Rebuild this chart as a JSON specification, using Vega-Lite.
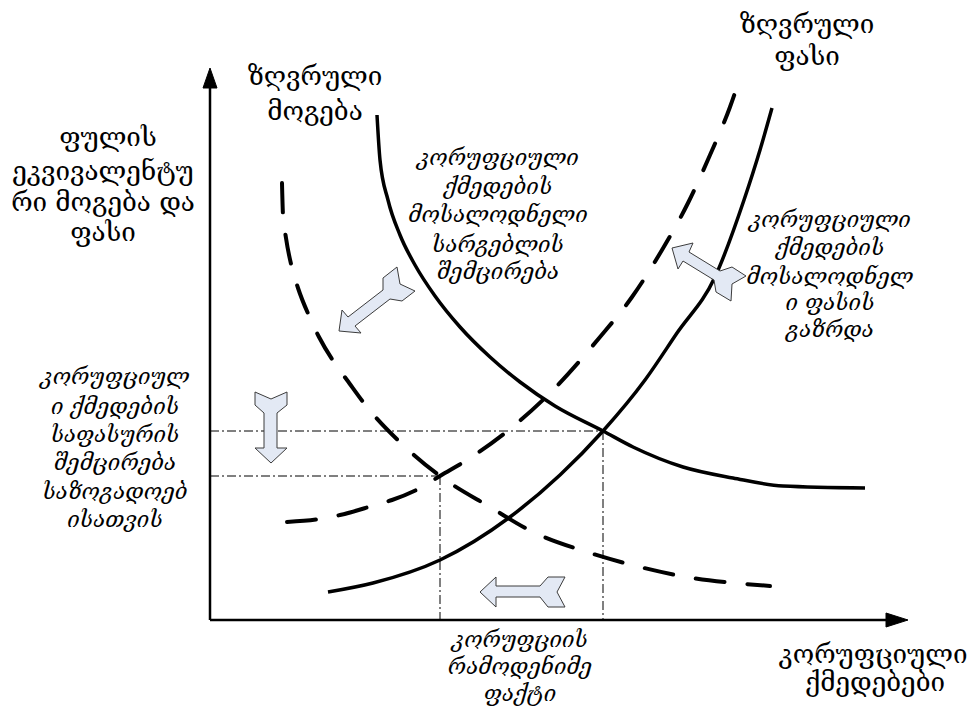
{
  "$schema": "https://vega.github.io/schema/vega-lite/v6.json",
  "autosize": {"type": "fit", "contains": "padding"},
  "width": 979,
  "height": 714,
  "padding": 0,
  "background": "white",
  "config": {"view": {"stroke": null}},
  "datasets": {
    "curves": [
      {"c": "MB", "i": 0, "x": 167, "y": 505}, {"c": "MB", "i": 1, "x": 170, "y": 460}, {"c": "MB", "i": 2, "x": 178, "y": 420}, {"c": "MB", "i": 3, "x": 190, "y": 385}, {"c": "MB", "i": 4, "x": 205, "y": 355}, {"c": "MB", "i": 5, "x": 225, "y": 324}, {"c": "MB", "i": 6, "x": 250, "y": 293}, {"c": "MB", "i": 7, "x": 280, "y": 263}, {"c": "MB", "i": 8, "x": 310, "y": 238}, {"c": "MB", "i": 9, "x": 345, "y": 214}, {"c": "MB", "i": 10, "x": 393, "y": 189}, {"c": "MB", "i": 11, "x": 423, "y": 173}, {"c": "MB", "i": 12, "x": 473, "y": 153}, {"c": "MB", "i": 13, "x": 523, "y": 142}, {"c": "MB", "i": 14, "x": 573, "y": 134}, {"c": "MB", "i": 15, "x": 655, "y": 132},
      {"c": "MC", "i": 0, "x": 118, "y": 28}, {"c": "MC", "i": 1, "x": 163, "y": 37}, {"c": "MC", "i": 2, "x": 230, "y": 60}, {"c": "MC", "i": 3, "x": 300, "y": 103}, {"c": "MC", "i": 4, "x": 350, "y": 145}, {"c": "MC", "i": 5, "x": 393, "y": 189}, {"c": "MC", "i": 6, "x": 435, "y": 240}, {"c": "MC", "i": 7, "x": 467, "y": 287}, {"c": "MC", "i": 8, "x": 505, "y": 343}, {"c": "MC", "i": 9, "x": 534, "y": 420}, {"c": "MC", "i": 10, "x": 550, "y": 470}, {"c": "MC", "i": 11, "x": 562, "y": 512},
      {"c": "MBd", "i": 0, "x": 72, "y": 437}, {"c": "MBd", "i": 1, "x": 73, "y": 405}, {"c": "MBd", "i": 2, "x": 76, "y": 382}, {"c": "MBd", "i": 3, "x": 82, "y": 352}, {"c": "MBd", "i": 4, "x": 88, "y": 332}, {"c": "MBd", "i": 5, "x": 100, "y": 302}, {"c": "MBd", "i": 6, "x": 109, "y": 283}, {"c": "MBd", "i": 7, "x": 126, "y": 255}, {"c": "MBd", "i": 8, "x": 137, "y": 240}, {"c": "MBd", "i": 9, "x": 157, "y": 213}, {"c": "MBd", "i": 10, "x": 193, "y": 175}, {"c": "MBd", "i": 11, "x": 230, "y": 144}, {"c": "MBd", "i": 12, "x": 280, "y": 113}, {"c": "MBd", "i": 13, "x": 323, "y": 88}, {"c": "MBd", "i": 14, "x": 377, "y": 68}, {"c": "MBd", "i": 15, "x": 430, "y": 53}, {"c": "MBd", "i": 16, "x": 482, "y": 42}, {"c": "MBd", "i": 17, "x": 535, "y": 36}, {"c": "MBd", "i": 18, "x": 560, "y": 34},
      {"c": "MCd", "i": 0, "x": 77, "y": 98}, {"c": "MCd", "i": 1, "x": 110, "y": 101}, {"c": "MCd", "i": 2, "x": 130, "y": 105}, {"c": "MCd", "i": 3, "x": 162, "y": 114}, {"c": "MCd", "i": 4, "x": 182, "y": 120}, {"c": "MCd", "i": 5, "x": 212, "y": 133}, {"c": "MCd", "i": 6, "x": 230, "y": 144}, {"c": "MCd", "i": 7, "x": 257, "y": 160}, {"c": "MCd", "i": 8, "x": 300, "y": 191}, {"c": "MCd", "i": 9, "x": 340, "y": 227}, {"c": "MCd", "i": 10, "x": 390, "y": 283}, {"c": "MCd", "i": 11, "x": 422, "y": 323}, {"c": "MCd", "i": 12, "x": 452, "y": 370}, {"c": "MCd", "i": 13, "x": 478, "y": 417}, {"c": "MCd", "i": 14, "x": 500, "y": 465}, {"c": "MCd", "i": 15, "x": 520, "y": 513}, {"c": "MCd", "i": 16, "x": 530, "y": 542}
    ],
    "refs": [
      {"r": "h1", "i": 0, "x": 0, "y": 189}, {"r": "h1", "i": 1, "x": 393, "y": 189},
      {"r": "h2", "i": 0, "x": 0, "y": 144}, {"r": "h2", "i": 1, "x": 230, "y": 144},
      {"r": "v1", "i": 0, "x": 230, "y": 144}, {"r": "v1", "i": 1, "x": 230, "y": 0},
      {"r": "v2", "i": 0, "x": 393, "y": 189}, {"r": "v2", "i": 1, "x": 393, "y": 0}
    ],
    "axes": [
      {"a": "y", "i": 0, "x": 0, "y": 0}, {"a": "y", "i": 1, "x": 0, "y": 534},
      {"a": "x", "i": 0, "x": 0, "y": 0}, {"a": "x", "i": 1, "x": 678, "y": 0}
    ],
    "heads": [
      {"h": "y", "i": 0, "x": -7, "y": 532}, {"h": "y", "i": 1, "x": 0, "y": 552}, {"h": "y", "i": 2, "x": 7, "y": 532}, {"h": "y", "i": 3, "x": -7, "y": 532},
      {"h": "x", "i": 0, "x": 676, "y": 7}, {"h": "x", "i": 1, "x": 698, "y": 0}, {"h": "x", "i": 2, "x": 676, "y": -7}, {"h": "x", "i": 3, "x": 676, "y": 7}
    ],
    "arrows": [
      {"k": "A", "i": 0, "x": 61, "y": 157}, {"k": "A", "i": 1, "x": 45, "y": 172}, {"k": "A", "i": 2, "x": 54, "y": 172}, {"k": "A", "i": 3, "x": 54, "y": 207}, {"k": "A", "i": 4, "x": 45, "y": 215}, {"k": "A", "i": 5, "x": 45, "y": 228}, {"k": "A", "i": 6, "x": 61, "y": 221}, {"k": "A", "i": 7, "x": 77, "y": 228}, {"k": "A", "i": 8, "x": 77, "y": 215}, {"k": "A", "i": 9, "x": 67, "y": 207}, {"k": "A", "i": 10, "x": 67, "y": 172}, {"k": "A", "i": 11, "x": 77, "y": 172}, {"k": "A", "i": 12, "x": 61, "y": 157},
      {"k": "B", "i": 0, "x": 270, "y": 28}, {"k": "B", "i": 1, "x": 286, "y": 43}, {"k": "B", "i": 2, "x": 286, "y": 34}, {"k": "B", "i": 3, "x": 330, "y": 34}, {"k": "B", "i": 4, "x": 338, "y": 43}, {"k": "B", "i": 5, "x": 355, "y": 43}, {"k": "B", "i": 6, "x": 347, "y": 28}, {"k": "B", "i": 7, "x": 355, "y": 13}, {"k": "B", "i": 8, "x": 338, "y": 13}, {"k": "B", "i": 9, "x": 330, "y": 23}, {"k": "B", "i": 10, "x": 286, "y": 23}, {"k": "B", "i": 11, "x": 286, "y": 13}, {"k": "B", "i": 12, "x": 270, "y": 28},
      {"k": "C", "i": 0, "x": 129, "y": 289}, {"k": "C", "i": 1, "x": 151, "y": 287}, {"k": "C", "i": 2, "x": 145, "y": 294}, {"k": "C", "i": 3, "x": 180, "y": 321}, {"k": "C", "i": 4, "x": 192, "y": 319}, {"k": "C", "i": 5, "x": 205, "y": 329}, {"k": "C", "i": 6, "x": 190, "y": 336}, {"k": "C", "i": 7, "x": 187, "y": 353}, {"k": "C", "i": 8, "x": 173, "y": 342}, {"k": "C", "i": 9, "x": 173, "y": 330}, {"k": "C", "i": 10, "x": 138, "y": 303}, {"k": "C", "i": 11, "x": 132, "y": 310}, {"k": "C", "i": 12, "x": 129, "y": 289},
      {"k": "D", "i": 0, "x": 462, "y": 372}, {"k": "D", "i": 1, "x": 483, "y": 377}, {"k": "D", "i": 2, "x": 479, "y": 368}, {"k": "D", "i": 3, "x": 510, "y": 349}, {"k": "D", "i": 4, "x": 522, "y": 353}, {"k": "D", "i": 5, "x": 536, "y": 344}, {"k": "D", "i": 6, "x": 522, "y": 336}, {"k": "D", "i": 7, "x": 521, "y": 319}, {"k": "D", "i": 8, "x": 506, "y": 328}, {"k": "D", "i": 9, "x": 504, "y": 340}, {"k": "D", "i": 10, "x": 473, "y": 359}, {"k": "D", "i": 11, "x": 468, "y": 351}, {"k": "D", "i": 12, "x": 462, "y": 372}
    ],
    "labels": [
      {"s": "up", "t": "ზღვრული", "x": 105, "y": 543},
      {"s": "up", "t": "მოგება", "x": 105, "y": 508},
      {"s": "up", "t": "ზღვრული", "x": 597, "y": 595},
      {"s": "up", "t": "ფასი", "x": 597, "y": 563},
      {"s": "up", "t": "ფულის", "x": -102, "y": 482},
      {"s": "up", "t": "ეკვივალენტუ", "x": -107, "y": 448},
      {"s": "up", "t": "რი მოგება და", "x": -107, "y": 417},
      {"s": "up", "t": "ფასი", "x": -107, "y": 387},
      {"s": "up", "t": "კორუფციული", "x": 663, "y": -35},
      {"s": "up", "t": "ქმედებები", "x": 665, "y": -63},
      {"s": "it", "t": "კორუფციული", "x": 288, "y": 462},
      {"s": "it", "t": "ქმედების", "x": 288, "y": 433},
      {"s": "it", "t": "მოსალოდნელი", "x": 288, "y": 405},
      {"s": "it", "t": "სარგებლის", "x": 288, "y": 375},
      {"s": "it", "t": "შემცირება", "x": 288, "y": 348},
      {"s": "it", "t": "კორუფციული", "x": 620, "y": 400},
      {"s": "it", "t": "ქმედების", "x": 620, "y": 372},
      {"s": "it", "t": "მოსალოდნელ", "x": 620, "y": 343},
      {"s": "it", "t": "ი  ფასის", "x": 620, "y": 317},
      {"s": "it", "t": "გაზრდა", "x": 620, "y": 290},
      {"s": "it", "t": "კორუფციულ", "x": -95, "y": 243},
      {"s": "it", "t": "ი  ქმედების", "x": -95, "y": 213},
      {"s": "it", "t": "საფასურის", "x": -95, "y": 185},
      {"s": "it", "t": "შემცირება", "x": -95, "y": 157},
      {"s": "it", "t": "საზოგადოებ", "x": -95, "y": 128},
      {"s": "it", "t": "ისათვის", "x": -95, "y": 100},
      {"s": "it", "t": "კორუფციის", "x": 310, "y": -20},
      {"s": "it", "t": "რამოდენიმე", "x": 310, "y": -47},
      {"s": "it", "t": "ფაქტი", "x": 310, "y": -74}
    ]
  },
  "layer": [
    {
      "data": {"name": "refs"},
      "mark": {"type": "line", "color": "black", "strokeWidth": 1, "strokeDash": [9, 3, 2, 3]},
      "encoding": {
        "x": {"field": "x", "type": "quantitative", "scale": {"domain": [-210, 769], "nice": false, "zero": false}, "axis": null},
        "y": {"field": "y", "type": "quantitative", "scale": {"domain": [-94, 620], "nice": false, "zero": false}, "axis": null},
        "detail": {"field": "r"},
        "order": {"field": "i"}
      }
    },
    {
      "data": {"name": "curves"},
      "transform": [{"filter": "datum.c === 'MB' || datum.c === 'MC'"}],
      "mark": {"type": "line", "color": "black", "strokeWidth": 3.5, "interpolate": "monotone"},
      "encoding": {
        "x": {"field": "x", "type": "quantitative", "scale": {"domain": [-210, 769], "nice": false, "zero": false}, "axis": null},
        "y": {"field": "y", "type": "quantitative", "scale": {"domain": [-94, 620], "nice": false, "zero": false}, "axis": null},
        "detail": {"field": "c"},
        "order": {"field": "i"}
      }
    },
    {
      "data": {"name": "curves"},
      "transform": [{"filter": "datum.c === 'MBd' || datum.c === 'MCd'"}],
      "mark": {"type": "line", "color": "black", "strokeWidth": 4, "strokeDash": [29, 23], "strokeCap": "round", "interpolate": "monotone"},
      "encoding": {
        "x": {"field": "x", "type": "quantitative", "scale": {"domain": [-210, 769], "nice": false, "zero": false}, "axis": null},
        "y": {"field": "y", "type": "quantitative", "scale": {"domain": [-94, 620], "nice": false, "zero": false}, "axis": null},
        "detail": {"field": "c"},
        "order": {"field": "i"}
      }
    },
    {
      "data": {"name": "axes"},
      "mark": {"type": "line", "color": "black", "strokeWidth": 2.5},
      "encoding": {
        "x": {"field": "x", "type": "quantitative", "scale": {"domain": [-210, 769], "nice": false, "zero": false}, "axis": null},
        "y": {"field": "y", "type": "quantitative", "scale": {"domain": [-94, 620], "nice": false, "zero": false}, "axis": null},
        "detail": {"field": "a"},
        "order": {"field": "i"}
      }
    },
    {
      "data": {"name": "heads"},
      "mark": {"type": "line", "fill": "black", "stroke": "black", "strokeWidth": 1},
      "encoding": {
        "x": {"field": "x", "type": "quantitative", "scale": {"domain": [-210, 769], "nice": false, "zero": false}, "axis": null},
        "y": {"field": "y", "type": "quantitative", "scale": {"domain": [-94, 620], "nice": false, "zero": false}, "axis": null},
        "detail": {"field": "h"},
        "order": {"field": "i"}
      }
    },
    {
      "data": {"name": "arrows"},
      "mark": {"type": "line", "fill": "#e3e9f4", "stroke": "#3c3c3c", "strokeWidth": 1, "strokeJoin": "miter"},
      "encoding": {
        "x": {"field": "x", "type": "quantitative", "scale": {"domain": [-210, 769], "nice": false, "zero": false}, "axis": null},
        "y": {"field": "y", "type": "quantitative", "scale": {"domain": [-94, 620], "nice": false, "zero": false}, "axis": null},
        "detail": {"field": "k"},
        "order": {"field": "i"}
      }
    },
    {
      "data": {"name": "labels"},
      "transform": [{"filter": "datum.s === 'up'"}],
      "mark": {"type": "text", "font": "DejaVu Serif", "fontSize": 26, "align": "center", "baseline": "middle", "color": "black"},
      "encoding": {
        "x": {"field": "x", "type": "quantitative", "scale": {"domain": [-210, 769], "nice": false, "zero": false}, "axis": null},
        "y": {"field": "y", "type": "quantitative", "scale": {"domain": [-94, 620], "nice": false, "zero": false}, "axis": null},
        "text": {"field": "t"}
      }
    },
    {
      "data": {"name": "labels"},
      "transform": [{"filter": "datum.s === 'it'"}],
      "mark": {"type": "text", "font": "DejaVu Serif", "fontStyle": "italic", "fontSize": 22, "align": "center", "baseline": "middle", "color": "black"},
      "encoding": {
        "x": {"field": "x", "type": "quantitative", "scale": {"domain": [-210, 769], "nice": false, "zero": false}, "axis": null},
        "y": {"field": "y", "type": "quantitative", "scale": {"domain": [-94, 620], "nice": false, "zero": false}, "axis": null},
        "text": {"field": "t"}
      }
    }
  ]
}
